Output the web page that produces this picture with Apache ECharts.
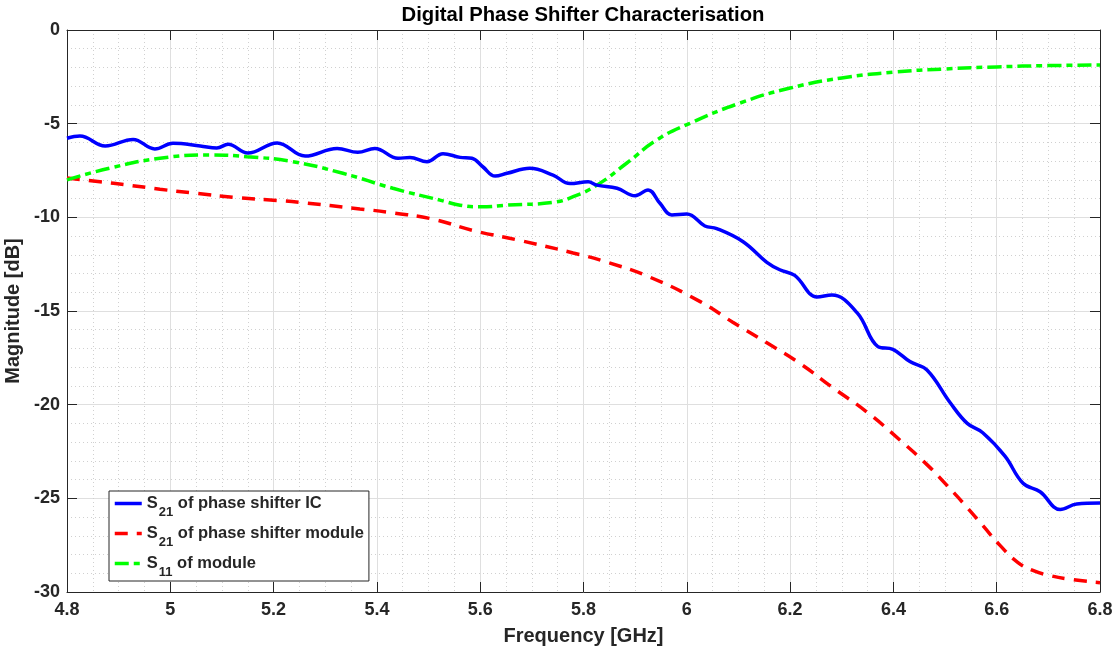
<!DOCTYPE html>
<html>
<head>
<meta charset="utf-8">
<script src="https://cdn.jsdelivr.net/npm/echarts@6/dist/echarts.min.js"></script>
<style>
  html, body { margin: 0; padding: 0; background: #fff; }
  #chart { width: 1118px; height: 653px; }
</style>
</head>
<body>
<div id="chart"></div>
<script>
// S21 of the phase shifter IC
const freqIC = [4.800, 4.825, 4.874, 4.928, 4.970, 5.005, 5.058, 5.090, 5.112, 5.150,
  5.207, 5.261, 5.323, 5.363, 5.396, 5.441, 5.464, 5.497, 5.528, 5.561,
  5.584, 5.605, 5.629, 5.652, 5.696, 5.741, 5.774, 5.809, 5.826, 5.865,
  5.900, 5.925, 5.948, 5.971, 6.000, 6.035, 6.058, 6.109, 6.155, 6.180,
  6.209, 6.252, 6.281, 6.330, 6.370, 6.399, 6.432, 6.465, 6.510, 6.543,
  6.573, 6.616, 6.651, 6.684, 6.723, 6.755, 6.800]
const magIC = [-5.78, -5.66, -6.19, -5.84, -6.35, -6.05, -6.19, -6.30, -6.10, -6.57,
  -6.03, -6.73, -6.32, -6.53, -6.32, -6.85, -6.80, -7.03, -6.60, -6.80,
  -6.85, -7.30, -7.80, -7.65, -7.38, -7.75, -8.20, -8.10, -8.28, -8.45,
  -8.85, -8.54, -9.25, -9.87, -9.82, -10.46, -10.60, -11.30, -12.40, -12.80,
  -13.10, -14.25, -14.15, -15.10, -16.90, -17.05, -17.70, -18.15, -19.90, -21.00,
  -21.50, -22.75, -24.20, -24.65, -25.60, -25.30, -25.25]

// S21 of the phase shifter module
const freqMod = [4.800, 4.864, 4.916, 4.980, 5.044, 5.129, 5.207, 5.251, 5.367, 5.431,
  5.509, 5.586, 5.671, 5.780, 5.846, 5.929, 6.026, 6.089, 6.155, 6.219,
  6.283, 6.349, 6.413, 6.465, 6.500, 6.535, 6.573, 6.606, 6.640, 6.670,
  6.700, 6.736, 6.800]
const magMod = [-7.90, -8.10, -8.27, -8.50, -8.70, -8.95, -9.10, -9.20, -9.55, -9.76,
  -10.10, -10.70, -11.20, -11.90, -12.40, -13.20, -14.50, -15.60, -16.70, -17.80,
  -19.10, -20.40, -21.90, -23.20, -24.20, -25.25, -26.45, -27.50, -28.40, -28.85,
  -29.10, -29.30, -29.50]

// S11 of the module
const freqS11 = [4.800, 4.883, 4.980, 5.077, 5.148, 5.237, 5.334, 5.431, 5.522, 5.561,
  5.600, 5.652, 5.741, 5.780, 5.826, 5.884, 5.942, 6.006, 6.103, 6.200,
  6.300, 6.400, 6.500, 6.600, 6.700, 6.800]
const magS11 = [-8.00, -7.37, -6.85, -6.67, -6.76, -7.03, -7.65, -8.45, -9.08, -9.35,
  -9.44, -9.35, -9.20, -8.90, -8.28, -7.10, -5.87, -4.98, -3.90, -3.10,
  -2.56, -2.25, -2.08, -1.97, -1.90, -1.87]

const seriesNames = ['S21 of phase shifter IC', 'S21 of phase shifter module', 'S11 of module']
const legendLabels = [
  '{t|S}{s|21}{t| of phase shifter IC}',
  '{t|S}{s|21}{t| of phase shifter module}',
  '{t|S}{s|11}{t| of module}'
]

const zip = (xs, ys) => xs.map((x, i) => [x, ys[i]])

const ink = '#262626'
const font = 'Liberation Sans, Arial, Helvetica, sans-serif'

const chart = echarts.init(document.getElementById('chart'), null, { renderer: 'canvas' })

const baseX = {
  type: 'value',
  min: 4.8,
  max: 6.8,
  interval: 0.2,
  axisLine: { show: true, onZero: false, lineStyle: { color: ink, width: 1 } },
  axisTick: { show: true, inside: true, length: 10, lineStyle: { color: ink } }
}
const baseY = {
  type: 'value',
  min: -30,
  max: 0,
  interval: 5,
  axisLine: { show: true, onZero: false, lineStyle: { color: ink, width: 1 } },
  axisTick: { show: true, inside: true, length: 10, lineStyle: { color: ink } }
}

chart.setOption({
  animation: false,
  backgroundColor: '#fff',
  textStyle: { fontFamily: font },
  graphic: [{
    type: 'text',
    x: 583,
    y: 15,
    style: {
      text: 'Digital Phase Shifter Characterisation',
      fill: '#000',
      font: 'bold 20.3px ' + font,
      align: 'center',
      verticalAlign: 'middle'
    }
  }],
  grid: {
    left: 67,
    right: 18,
    top: 30,
    bottom: 61,
    outerBoundsMode: 'none'
  },
  legend: {
    orient: 'vertical',
    left: 109,
    top: 491,
    padding: [4, 5, 2, 4],
    itemGap: 6,
    itemWidth: 27,
    itemHeight: 14,
    backgroundColor: '#fff',
    borderColor: ink,
    borderWidth: 1,
    borderRadius: 0,
    data: seriesNames,
    itemStyle: { opacity: 0 },
    lineStyle: { width: 3.5 },
    formatter: name => legendLabels[seriesNames.indexOf(name)],
    textStyle: {
      color: ink,
      rich: {
        t: { fontSize: 16.5, fontWeight: 'bold', color: ink, fontFamily: font },
        s: { fontSize: 13, fontWeight: 'bold', color: ink, fontFamily: font, padding: [18, 0, 0, 1] }
      }
    }
  },
  xAxis: [
    Object.assign({}, baseX, {
      position: 'bottom',
      name: 'Frequency [GHz]',
      nameLocation: 'middle',
      nameGap: 34,
      nameTextStyle: { color: ink, fontSize: 20, fontWeight: 'bold' },
      axisLabel: {
        color: ink, fontSize: 18, fontWeight: 'bold', margin: 9,
        showMinLabel: true, showMaxLabel: true
      },
      splitLine: { show: true, lineStyle: { color: '#dfdfdf', width: 1 } },
      minorTick: { show: false, splitNumber: 4 },
      minorSplitLine: { show: true, lineStyle: { color: '#d0d0d0', width: 1, type: [1, 3] } }
    }),
    Object.assign({}, baseX, {
      position: 'top',
      axisLabel: { show: false },
      splitLine: { show: false }
    })
  ],
  yAxis: [
    Object.assign({}, baseY, {
      position: 'left',
      name: 'Magnitude [dB]',
      nameLocation: 'middle',
      nameGap: 25,
      nameTextStyle: { color: ink, fontSize: 20, fontWeight: 'bold' },
      axisLabel: {
        color: ink, fontSize: 18, fontWeight: 'bold', margin: 7,
        showMinLabel: true, showMaxLabel: true
      },
      splitLine: { show: true, lineStyle: { color: '#dfdfdf', width: 1 } },
      minorTick: { show: false, splitNumber: 5 },
      minorSplitLine: { show: true, lineStyle: { color: '#d0d0d0', width: 1, type: [1, 3] } }
    }),
    Object.assign({}, baseY, {
      position: 'right',
      axisLabel: { show: false },
      splitLine: { show: false }
    })
  ],
  series: [
    {
      name: seriesNames[0],
      type: 'line',
      data: zip(freqIC, magIC),
      showSymbol: false,
      symbol: 'none',
      smooth: 0.4,
      clip: true,
      lineStyle: { color: '#0000ff', width: 3.5 },
      itemStyle: { color: '#0000ff' },
      z: 4
    },
    {
      name: seriesNames[1],
      type: 'line',
      data: zip(freqMod, magMod),
      showSymbol: false,
      symbol: 'none',
      smooth: 0.5,
      clip: true,
      lineStyle: { color: '#ff0000', width: 3.5, type: [13, 9] },
      itemStyle: { color: '#ff0000' },
      z: 3
    },
    {
      name: seriesNames[2],
      type: 'line',
      data: zip(freqS11, magS11),
      showSymbol: false,
      symbol: 'none',
      smooth: 0.5,
      clip: true,
      lineStyle: { color: '#00ff00', width: 3.5, type: [14, 5, 6, 5] },
      itemStyle: { color: '#00ff00' },
      z: 3
    }
  ]
})
</script>
</body>
</html>
